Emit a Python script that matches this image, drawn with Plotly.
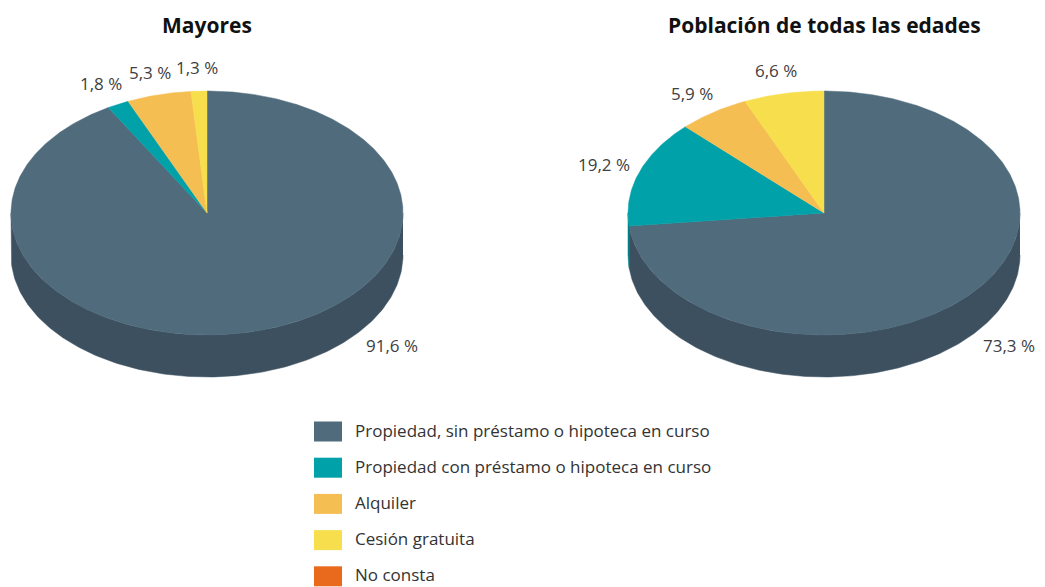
import numpy as np
import plotly.graph_objects as go

# ---------------- data ----------------
categories = [
    "Propiedad, sin préstamo o hipoteca en curso",
    "Propiedad con préstamo o hipoteca en curso",
    "Alquiler",
    "Cesión gratuita",
    "No consta",
]
titles = ["Mayores", "Población de todas las edades"]
# shares as drawn in the pies (clockwise from 12 o'clock)
mayores_values = [91.6, 1.8, 5.3, 1.3, 0.0]
todas_values = [73.3, 14.2, 5.9, 6.6, 0.0]
# printed labels
mayores_labels = ["91,6 %", "1,8 %", "5,3 %", "1,3 %", ""]
todas_labels = ["73,3 %", "19,2 %", "5,9 %", "6,6 %", ""]

# ---------------- style ----------------
top_colors = ["#4f6b7c", "#00a1a9", "#f5be53", "#f7de4d", "#e96a1d"]
wall_colors = ["#3c5060", "#007f86", "#c9983f", "#cbb43c", "#b9521a"]
W, H = 1045, 587
RX, RY, DEPTH = 196, 122, 42
centers = [(207, 213), (824, 213)]
FONT = "Open Sans"


def pt(cx, cy, t, f=1.0, dy=0.0):
    r = np.radians(t)
    return cx + RX * f * np.sin(r), cy - RY * f * np.cos(r) + dy


fig = go.Figure()
annotations = []
shapes = []

series = [(mayores_values, mayores_labels), (todas_values, todas_labels)]

for (cx, cy), (vals, labs), title in zip(centers, series, titles):
    total = sum(vals)
    bounds = []
    start = 0.0
    for v in vals:
        end = start + v / total * 360.0
        bounds.append((start, end))
        start = end

    # side walls (front half only)
    for i, (a0, a1) in enumerate(bounds):
        lo, hi = max(a0, 90.0), min(a1, 270.0)
        if hi > lo:
            ts = np.linspace(lo, hi, 200)
            xt, yt = pt(cx, cy, ts)
            xb, yb = pt(cx, cy, ts[::-1], dy=DEPTH)
            fig.add_trace(go.Scatter(
                x=np.concatenate([xt, xb]), y=np.concatenate([yt, yb]),
                mode="lines", fill="toself", fillcolor=wall_colors[i],
                line=dict(color=wall_colors[i], width=0.5),
                hoverinfo="skip", showlegend=False))

    # top faces
    for i, (a0, a1) in enumerate(bounds):
        if a1 - a0 <= 0:
            continue
        ts = np.linspace(a0, a1, max(4, int((a1 - a0) * 2)))
        xs, ys = pt(cx, cy, ts)
        fig.add_trace(go.Scatter(
            x=np.concatenate([[cx], xs, [cx]]), y=np.concatenate([[cy], ys, [cy]]),
            mode="lines", fill="toself", fillcolor=top_colors[i],
            line=dict(color=top_colors[i], width=0.5),
            name=categories[i], hoverinfo="name", showlegend=False))

    # value labels
    big = int(np.argmax(vals))
    for i, (a0, a1) in enumerate(bounds):
        if vals[i] <= 0:
            continue
        if i == big:
            lx, ly = pt(cx, cy, 139.0, f=1.44)
        else:
            lx, ly = pt(cx, cy, (a0 + a1) / 2, f=1.19)
        annotations.append(dict(x=lx, y=ly, text=labs[i], showarrow=False,
                                xanchor="center", yanchor="middle",
                                font=dict(family=FONT, size=17, color="#404040")))

    annotations.append(dict(x=cx, y=25, text="<b>%s</b>" % title, showarrow=False,
                            xanchor="center", yanchor="middle",
                            font=dict(family=FONT, size=21, color="#111111")))

# legend
for i, cat in enumerate(categories):
    y0 = 421.5 + 36.2 * i
    shapes.append(dict(type="rect", xref="x", yref="y", x0=314, x1=342, y0=y0, y1=y0 + 20,
                       fillcolor=top_colors[i], line=dict(width=0)))
    annotations.append(dict(x=353, y=y0 + 8.5, text=cat, showarrow=False,
                            xanchor="left", yanchor="middle",
                            font=dict(family=FONT, size=17, color="#333333")))

fig.update_layout(
    width=W, height=H,
    margin=dict(l=0, r=0, t=0, b=0),
    paper_bgcolor="white", plot_bgcolor="white",
    xaxis=dict(range=[0, W], visible=False, fixedrange=True),
    yaxis=dict(range=[H, 0], visible=False, fixedrange=True),
    annotations=annotations, shapes=shapes,
    showlegend=False,
)

fig.write_html("out.html", config={"displayModeBar": False},
               post_script="document.body.style.margin='0px';document.body.style.overflow='hidden';")
